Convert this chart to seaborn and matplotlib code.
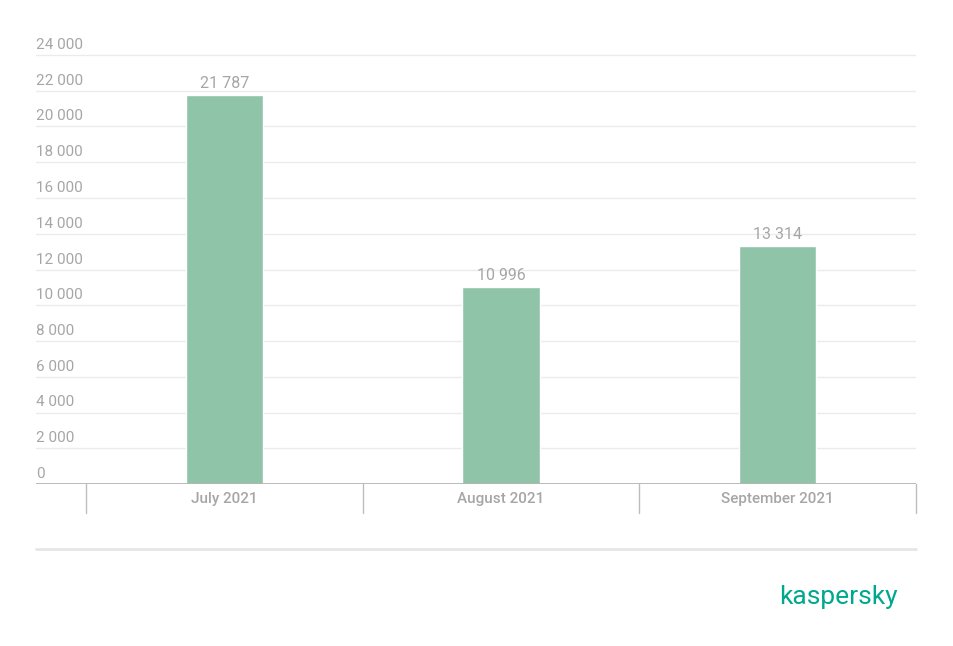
import matplotlib
matplotlib.use("Agg")
import matplotlib.pyplot as plt
import matplotlib.transforms as mtransforms
import pandas as pd
import seaborn as sns

months = ["July 2021", "August 2021", "September 2021"]
counts = [21787, 10996, 13314]
y_ticks = list(range(0, 24001, 2000))

df = pd.DataFrame({"month": months, "count": counts})

sns.set_style("white")
plt.rcParams["font.family"] = ["Roboto", "DejaVu Sans"]

W, H = 954, 646
fig = plt.figure(figsize=(W / 100, H / 100), dpi=100)
# axes box in pixels: left 36, right 916, baseline at 484
ax_h = 429 * 25000 / 24000
ax = fig.add_axes([36 / W, (H - 484) / H, 880 / W, ax_h / H])

text_grey = "#a6a6a6"

sns.barplot(data=df, x="month", y="count", color="#8fc4a8", width=0.28,
            saturation=1, ax=ax, zorder=3)

ax.set_xlim(-0.5 - 50 / 277, 2.5)
ax.set_ylim(0, 25000)
for s in ax.spines.values():
    s.set_visible(False)
ax.set_xlabel("")
ax.set_ylabel("")
ax.set_yticks([])
ax.tick_params(axis="x", length=0, pad=6, labelsize=11, labelcolor=text_grey)
for lbl in ax.get_xticklabels():
    lbl.set_fontweight("medium")

# gridlines and y labels sitting above them
for v in y_ticks:
    if v > 0:
        ax.axhline(v, color="#ebebeb", lw=1, zorder=1)
    ax.annotate(f"{v:,}".replace(",", " "), xy=(0, v), xycoords=("axes fraction", "data"),
                xytext=(0, 10), textcoords="offset pixels", ha="left", va="center",
                fontsize=11, color=text_grey)
ax.axhline(0, color="#b3b3b3", lw=2, zorder=4)

# value labels
for i, v in enumerate(counts):
    ax.annotate(f"{v:,}".replace(",", " "), xy=(i, v), xytext=(0, 4),
                textcoords="offset pixels", ha="center", va="bottom",
                fontsize=11.5, color=text_grey)

# category separators below the axis
trans = mtransforms.blended_transform_factory(ax.transData, ax.transAxes)
sep_len = 29 / ax_h
for x in [-0.5, 0.5, 1.5, 2.5]:
    ax.plot([x, x], [0, -sep_len], transform=trans, color="#bdbdbd", lw=1,
            clip_on=False)

# footer rule and logo
fig.add_artist(plt.Line2D([36 / W, 916 / W], [(H - 549) / H] * 2, color="#e6e6e6", lw=2))
fig.text(838 / W, (H - 597) / H, "kaspersky", ha="center", va="center",
         fontsize=19, color="#00a88e")

fig.savefig("out.png", dpi=100)
